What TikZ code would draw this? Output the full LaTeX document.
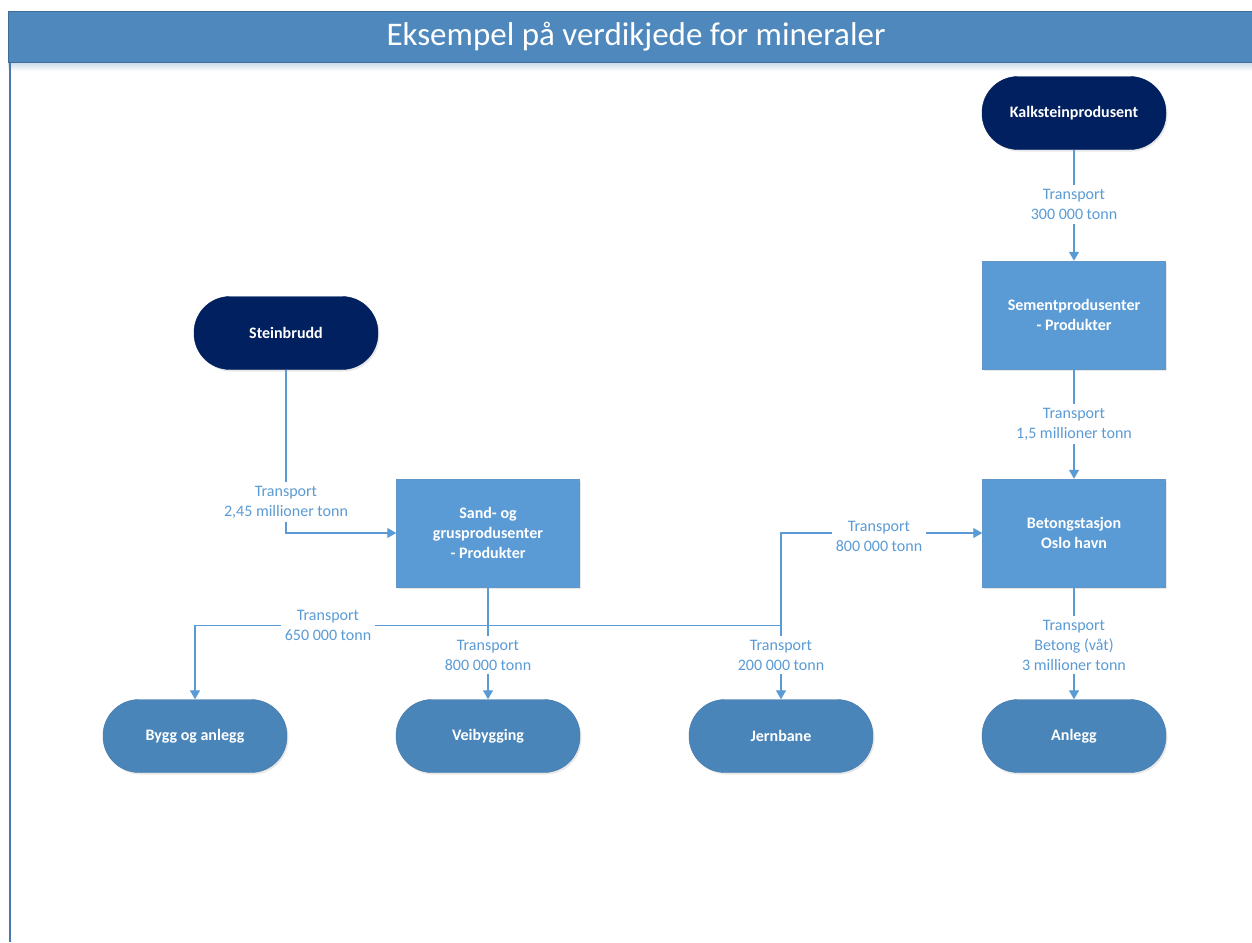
\documentclass[tikz,border=0pt]{standalone}
\usepackage{fontspec}
\setmainfont{Carlito}
\usetikzlibrary{arrows.meta,shadows,positioning}
\definecolor{navy}{HTML}{002060}
\definecolor{boxblue}{HTML}{5B9BD5}
\definecolor{termblue}{HTML}{4A85BA}
\definecolor{titleblue}{HTML}{4F88BD}
\definecolor{linkblue}{HTML}{5B9BD5}
\definecolor{edgeblue}{HTML}{4A78AE}
\tikzset{
  x=1pt, y=-1pt,
  stadium/.style={rectangle, rounded corners=36pt, minimum width=184pt, minimum height=73pt,
    inner sep=0pt, text=white, font=\fontsize{16}{20}\selectfont\bfseries, align=center,
    draw=edgeblue!60!white, line width=0.4pt,
    drop shadow={shadow xshift=1.5pt, shadow yshift=-2pt, opacity=0.18}},
  srcnode/.style={stadium, fill=navy, draw=navy},
  endnode/.style={stadium, fill=termblue, draw=termblue!90!black},
  procbox/.style={rectangle, minimum width=183pt, minimum height=108pt, inner sep=0pt,
    fill=boxblue, draw=boxblue!85!gray, line width=0.5pt, text=white,
    font=\fontsize{16}{20}\selectfont\bfseries, align=center,
    drop shadow={shadow xshift=1.5pt, shadow yshift=-2pt, opacity=0.18}},
  lbl/.style={fill=white, inner sep=4pt, text=linkblue, align=center,
    font=\fontsize{16}{20}\selectfont},
  link/.style={draw=linkblue, line width=1.3pt},
  arr/.style={link, -{Triangle[width=10pt,length=9pt]}},
}
\begin{document}
\begin{tikzpicture}
\useasboundingbox (0,0) rectangle (1252,942);
% title bar
\fill[white] (0,0) rectangle (1252,942);
\foreach \i in {0,...,9} {
  \fill[titleblue, opacity=0.035] (8,62) rectangle (1252,62+\i);
}
\draw[edgeblue, line width=2pt] (9.5,62) -- (9.5,942);
\node (titlebar) [rectangle, fill=titleblue, draw=titleblue!80!black, line width=0.6pt,
  minimum width=1250pt, minimum height=51pt, inner sep=0pt, anchor=north west] at (8,11) {};
\node (title) [text=white, font=\fontsize{33}{36}\selectfont, inner sep=0pt] at (636,37) {Eksempel på verdikjede for mineraler};

% nodes
\node (kalk) [srcnode] at (1074,113) {Kalksteinprodusent};
\node (sement) [procbox] at (1074,315) {Sementprodusenter\\- Produkter};
\node (betong) [procbox] at (1074,533) {Betongstasjon\\Oslo havn};
\node (stein) [srcnode] at (286,333) {Steinbrudd};
\node (sand) [procbox] at (488,533) {Sand- og\\grusprodusenter\\- Produkter};
\node (bygg) [endnode] at (195,736) {Bygg og anlegg};
\node (vei) [endnode] at (488,736) {Veibygging};
\node (jern) [endnode] at (781,736) {Jernbane};
\node (anlegg) [endnode] at (1074,736) {Anlegg};

% junctions
\coordinate (j1) at (488,625.5);
\coordinate (j2) at (781,625.5);

% connectors
\draw[arr] (kalk.south) -- (sement.north);
\draw[arr] (sement.south) -- (betong.north);
\draw[arr] (stein.south) |- (sand.west);
\draw[link] (sand.south) -- (j1);
\draw[arr] (j1) -| (bygg.north);
\draw[arr] (j1) -- (vei.north);
\draw[link] (j1) -- (j2);
\draw[arr] (j2) -- (jern.north);
\draw[arr] (j2) |- (betong.west);
\draw[arr] (betong.south) -- (anlegg.north);

% labels
\node (l1) [lbl] at (1074,204.5) {Transport\\300 000 tonn};
\node (l2) [lbl] at (1074,424) {Transport\\1,5 millioner tonn};
\node (l3) [lbl] at (286,502) {Transport\\2,45 millioner tonn};
\node (l4) [lbl] at (328,625) {Transport\\650 000 tonn};
\node (l5) [lbl] at (488,655) {Transport\\800 000 tonn};
\node (l6) [lbl] at (781,655) {Transport\\200 000 tonn};
\node (l7) [lbl] at (879,536) {Transport\\800 000 tonn};
\node (l8) [lbl] at (1074,645) {Transport\\Betong (våt)\\3 millioner tonn};
\end{tikzpicture}
\end{document}
